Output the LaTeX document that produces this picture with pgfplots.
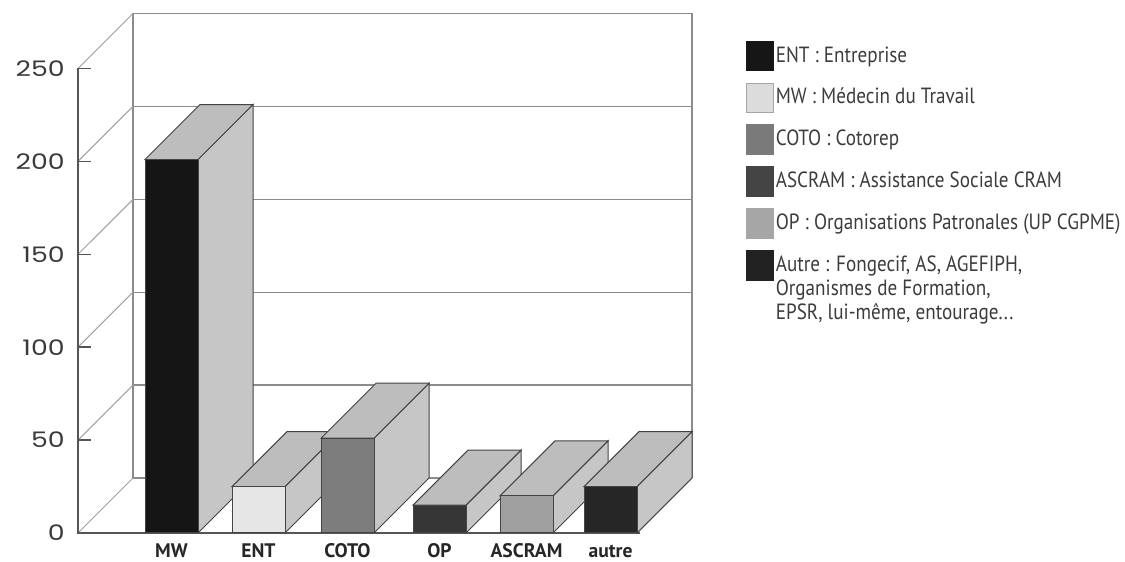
\documentclass[border=0pt]{standalone}
\usepackage{fontspec}
\usepackage{pgfplots}
\pgfplotsset{compat=1.18}
\newfontfamily\tickfont[FakeStretch=1.25]{Poppins}
\newfontfamily\labfont{PT Sans}
\newfontfamily\legfont[FakeStretch=0.87]{PT Sans}
\definecolor{edgecol}{HTML}{444444}
\definecolor{sidecol}{HTML}{C6C6C6}
\definecolor{topcol}{HTML}{BDBDBD}
\definecolor{gridcol}{HTML}{8C8C8C}
\definecolor{diagcol}{HTML}{A0A0A0}
\definecolor{axcol}{HTML}{555555}
\definecolor{cMW}{HTML}{151515}
\definecolor{cENT}{HTML}{E6E6E6}
\definecolor{cCOTO}{HTML}{7D7D7D}
\definecolor{cOP}{HTML}{363636}
\definecolor{cASC}{HTML}{A0A0A0}
\definecolor{cAUT}{HTML}{262626}
\definecolor{lENT}{HTML}{161616}
\definecolor{lMW}{HTML}{DCDCDC}
\definecolor{lCOTO}{HTML}{7A7A7A}
\definecolor{lASC}{HTML}{444444}
\definecolor{lOP}{HTML}{A6A6A6}
\definecolor{lAUT}{HTML}{222222}
\definecolor{txtcol}{HTML}{3C3C3C}
\definecolor{tickcol}{HTML}{3A3A3A}
\def\bw{53}\def\dpx{55}\def\dpy{29.6}
% bar: left edge (px), value, front colour
\newcommand{\threedbar}[3]{%
  \pgfmathsetmacro\xa{#1}%
  \pgfmathsetmacro\xb{#1+\bw}%
  \pgfmathsetmacro\xc{#1+\bw+\dpx}%
  \pgfmathsetmacro\xd{#1+\dpx}%
  \pgfmathsetmacro\yv{#2}%
  \pgfmathsetmacro\yt{#2+\dpy}%
  \edef\temp{%
    \noexpand\addplot[forget plot, draw=edgecol, line width=0.5pt, fill=sidecol]
      coordinates {(\xb,0) (\xc,\dpy) (\xc,\yt) (\xb,\yv)} -- cycle;
    \noexpand\addplot[forget plot, draw=edgecol, line width=0.5pt, fill=topcol]
      coordinates {(\xa,\yv) (\xd,\yt) (\xc,\yt) (\xb,\yv)} -- cycle;
    \noexpand\addplot[forget plot, draw=edgecol, line width=0.5pt, fill=#3]
      coordinates {(\xa,0) (\xb,0) (\xb,\yv) (\xa,\yv)} -- cycle;
  }\temp}
\begin{document}
\begin{tikzpicture}
\begin{axis}[
  x=0.5pt, y=0.929pt,
  xmin=0, xmax=1125, ymin=-15.61, ymax=286.87,
  clip=false,
  axis line style={draw=none},
  major tick length=0pt, tick style={draw=none},
  xtick={171.5,258.5,347.5,439.5,526.5,610.5},
  xticklabels={MW,ENT,COTO,OP,ASCRAM,autre},
  xticklabel style={anchor=base, inner sep=0pt, yshift=2pt, font=\labfont\bfseries\fontsize{9.8}{10}\selectfont, text=black!85},
  ytick={0,50,100,150,200,250},
  yticklabel={\pgfmathprintnumber[assume math mode=true]{\tick}},
  yticklabel style={anchor=east, inner sep=0pt, xshift=32.5pt, font=\tickfont\fontsize{10.7}{12}\selectfont, text=tickcol},
  legend style={at={(axis cs:746,264.96)}, anchor=north west, draw=none, fill=none,
    inner sep=0pt, outer sep=0pt, row sep=5.9pt, column sep=1pt,
    cells={anchor=base west},
    nodes={inner sep=0pt, text height=8pt, text depth=2.5pt,
      font=\legfont\fontsize{11}{12}\selectfont, text=txtcol}},
]
% back wall
\addplot[forget plot, gridcol, line width=0.6pt] coordinates {(133,29.6) (133,279.6) (692,279.6) (692,29.6)};
\addplot[forget plot, gridcol, line width=0.6pt] coordinates {(133,29.6) (692,29.6)};
\addplot[forget plot, gridcol, line width=0.6pt] coordinates {(133,79.6) (692,79.6)};
\addplot[forget plot, gridcol, line width=0.6pt] coordinates {(133,129.6) (692,129.6)};
\addplot[forget plot, gridcol, line width=0.6pt] coordinates {(133,179.6) (692,179.6)};
\addplot[forget plot, gridcol, line width=0.6pt] coordinates {(133,229.6) (692,229.6)};
% left wall diagonals
\addplot[forget plot, diagcol, line width=0.5pt] coordinates {(78,0) (133,29.6)};
\addplot[forget plot, diagcol, line width=0.5pt] coordinates {(78,50) (133,79.6)};
\addplot[forget plot, diagcol, line width=0.5pt] coordinates {(78,100) (133,129.6)};
\addplot[forget plot, diagcol, line width=0.5pt] coordinates {(78,150) (133,179.6)};
\addplot[forget plot, diagcol, line width=0.5pt] coordinates {(78,200) (133,229.6)};
\addplot[forget plot, diagcol, line width=0.5pt] coordinates {(78,250) (133,279.6)};
% floor
\addplot[forget plot, gridcol, line width=0.6pt] coordinates {(637,0) (692,29.6)};
% front axis and ticks
\addplot[forget plot, axcol, line width=0.7pt] coordinates {(78,250) (78,0) (640,0)};
\addplot[forget plot, axcol, line width=0.7pt] coordinates {(78,0) (91,0)};
\addplot[forget plot, axcol, line width=0.7pt] coordinates {(78,50) (91,50)};
\addplot[forget plot, axcol, line width=0.7pt] coordinates {(78,100) (91,100)};
\addplot[forget plot, axcol, line width=0.7pt] coordinates {(78,150) (91,150)};
\addplot[forget plot, axcol, line width=0.7pt] coordinates {(78,200) (91,200)};
\addplot[forget plot, axcol, line width=0.7pt] coordinates {(78,250) (91,250)};
% bars (left edge, value, colour)
\threedbar{145}{201}{cMW}
\threedbar{232}{25}{cENT}
\threedbar{321}{51}{cCOTO}
\threedbar{413}{15}{cOP}
\threedbar{500}{20}{cASC}
\threedbar{584}{25}{cAUT}
% legend
\addlegendimage{legend image code/.code={\fill[lENT] (0pt,-4.2pt) rectangle (13.5pt,10.5pt);}}
\addlegendentry{ENT : Entreprise}
\addlegendimage{legend image code/.code={\filldraw[fill=lMW, draw=black!35, line width=0.3pt] (0pt,-4.2pt) rectangle (13.5pt,10.5pt);}}
\addlegendentry{MW : Médecin du Travail}
\addlegendimage{legend image code/.code={\fill[lCOTO] (0pt,-4.2pt) rectangle (13.5pt,10.5pt);}}
\addlegendentry{COTO : Cotorep}
\addlegendimage{legend image code/.code={\fill[lASC] (0pt,-4.2pt) rectangle (13.5pt,10.5pt);}}
\addlegendentry{ASCRAM : Assistance Sociale CRAM}
\addlegendimage{legend image code/.code={\fill[lOP] (0pt,-4.2pt) rectangle (13.5pt,10.5pt);}}
\addlegendentry{OP : Organisations Patronales (UP CGPME)}
\addlegendimage{legend image code/.code={\fill[lAUT] (0pt,-4.2pt) rectangle (13.5pt,10.5pt);}}
\addlegendentry{\begin{tabular}[t]{@{}l@{}}Autre : Fongecif, AS, AGEFIPH,\\Organismes de Formation,\\EPSR, lui-même, entourage...\end{tabular}}
\end{axis}
\pgfresetboundingbox
\path (current axis.south west) rectangle (current axis.north east);
\end{tikzpicture}
\end{document}
